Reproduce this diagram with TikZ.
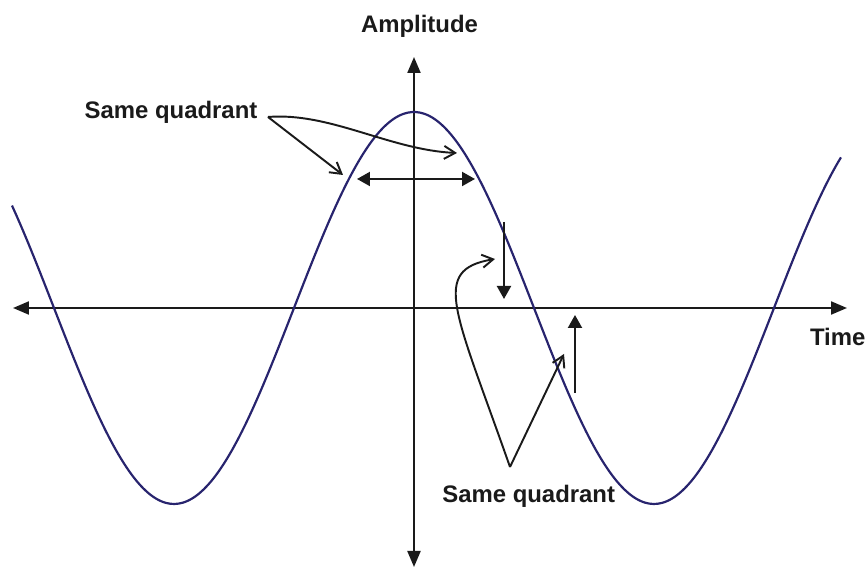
\documentclass[tikz,border=0pt]{standalone}
\usepackage{fontspec}
\setmainfont{Liberation Sans}
\usepackage{tikz}
\usetikzlibrary{arrows.meta,positioning,calc}
\usepackage{xcolor}
\definecolor{ink}{HTML}{1A1A1A}
\definecolor{wavecol}{HTML}{28246E}

\begin{document}
\begin{tikzpicture}[
  every node/.style={font=\fontsize{6.8}{8}\selectfont\bfseries, text=ink},
  lbl/.style={inner sep=0pt, anchor=base west},
  axis/.style={{Triangle[length=1.6mm,width=1.3mm]}-{Triangle[length=1.6mm,width=1.3mm]}, line width=0.6pt, draw=ink},
  bigarrow/.style={-{Triangle[length=1.3mm,width=1.4mm]}, line width=0.6pt, draw=ink},
  pointer/.style={-{Straight Barb[length=1.1mm,width=1.3mm]}, line width=0.55pt, draw=ink},
  wave/.style={line width=0.62pt, draw=wavecol}
]
  \useasboundingbox (-4.14,-2.59) rectangle (4.52,3.08);

  % Axes: horizontal = time, vertical = amplitude
  \coordinate (tl) at (-4.01,0);
  \coordinate (tr) at (4.33,0);
  \coordinate (ab) at (0,-2.59);
  \coordinate (at) at (0,2.51);
  \draw[axis] (tl) -- (tr);
  \draw[axis] (ab) -- (at);
  \node[lbl, anchor=base] (amp) at (0.055,2.757) {Amplitude};
  \node[lbl] (time) at (3.953,-0.38) {Time};

  % Cosine wave, period 4.8
  \draw[wave, domain=-4.02:4.27, samples=200, smooth] plot (\x, {1.96*cos(75*\x)});

  % Horizontal double arrow near the peak
  \coordinate (hl) at (-0.57,1.29);
  \coordinate (hr) at (0.61,1.29);
  \draw[bigarrow, {Triangle[length=1.3mm,width=1.4mm]}-{Triangle[length=1.3mm,width=1.4mm]}] (hl) -- (hr);

  % Vertical arrows near the zero crossing
  \coordinate (d1) at (0.90,0.86);
  \coordinate (d2) at (0.90,0.09);
  \draw[bigarrow] (d1) -- (d2);
  \coordinate (u1) at (1.61,-0.85);
  \coordinate (u2) at (1.61,-0.07);
  \draw[bigarrow] (u1) -- (u2);

  % Upper label and its pointers
  \node[lbl] (sq1) at (-3.30,1.897) {Same quadrant};
  \coordinate (s1) at (-1.46,1.91);
  \coordinate (p1) at (-0.71,1.33);
  \coordinate (p2) at (0.43,1.55);
  \draw[pointer] (s1) -- (p1);
  \draw[pointer] (s1) .. controls (-0.84,1.96) and (-0.24,1.58) .. (p2);

  % Lower label and its pointers
  \node[lbl] (sq2) at (0.277,-1.947) {Same quadrant};
  \coordinate (s2) at (0.96,-1.59);
  \coordinate (p3) at (1.50,-0.46);
  \coordinate (p4) at (0.81,0.49);
  \draw[pointer] (s2) -- (p3);
  \draw[pointer] (s2) .. controls (0.41,-0.02) and (0.16,0.38) .. (p4);
\end{tikzpicture}
\end{document}
